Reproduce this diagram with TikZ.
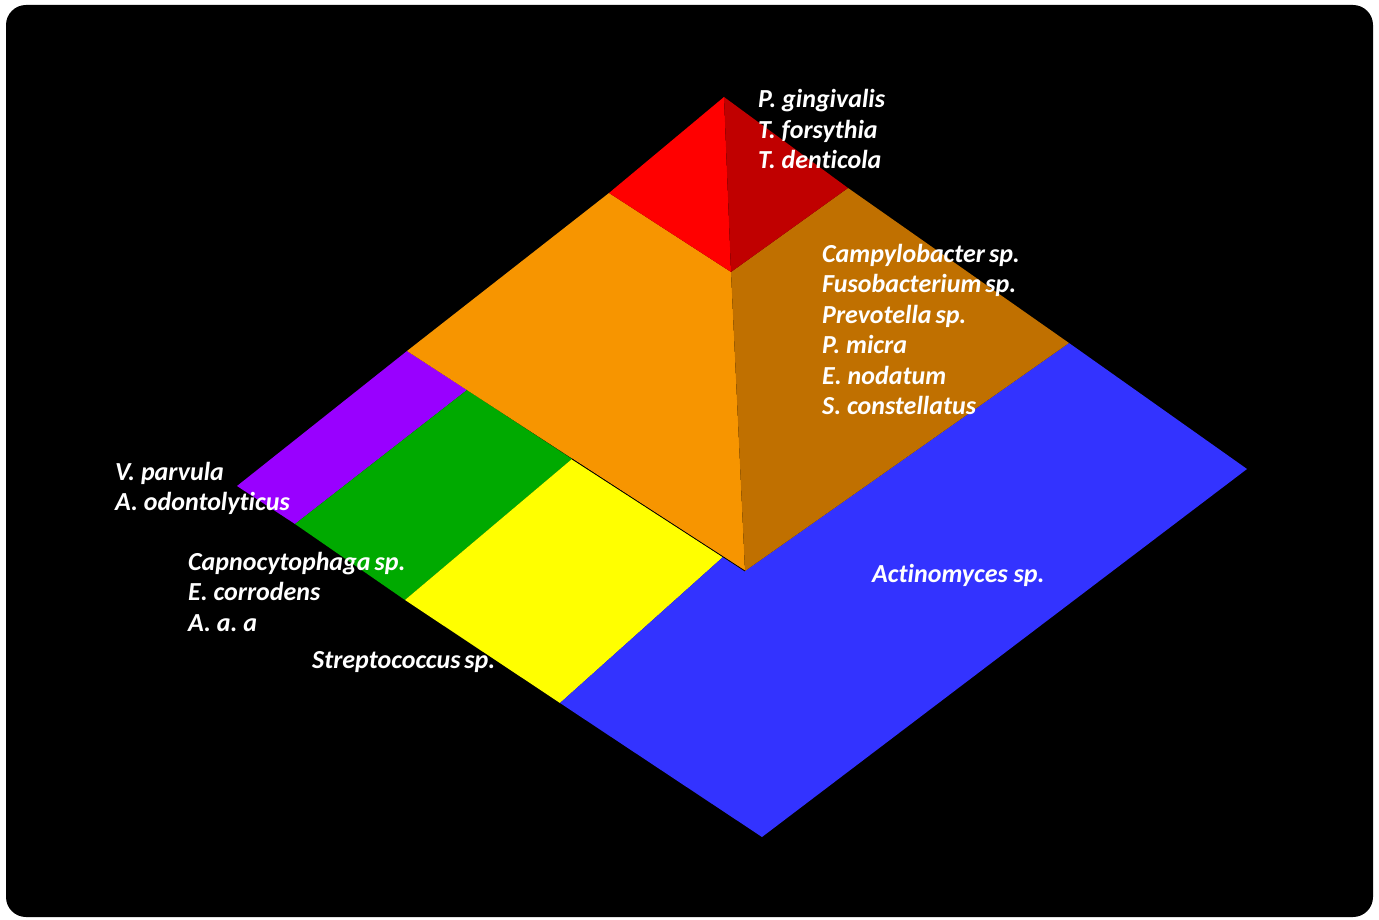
\documentclass[tikz,border=0pt]{standalone}
\usepackage{fontspec}
\setmainfont{Carlito}[Ligatures=NoCommon]
\frenchspacing
\definecolor{cRed}{HTML}{FF0000}
\definecolor{cDarkRed}{HTML}{C00000}
\definecolor{cOrange}{HTML}{F79500}
\definecolor{cBrown}{HTML}{C07000}
\definecolor{cBlue}{HTML}{3333FF}
\definecolor{cPurple}{HTML}{9900FF}
\definecolor{cGreen}{HTML}{00AA00}
\definecolor{cYellow}{HTML}{FFFF00}
\tikzset{
  lbl/.style={text=white, font=\fontsize{26}{30.5}\selectfont\bfseries\itshape\frenchspacing, anchor=base west, inner sep=0pt},
}
\begin{document}
\begin{tikzpicture}[x=1pt,y=-1pt]
\useasboundingbox (0,0) rectangle (1379,920);
\fill[white] (0,0) rectangle (1379,920);
\fill[black, rounded corners=20pt] (6,5) rectangle (1373,917);
% base corners
\coordinate (L) at (237,486);
\coordinate (PT) at (407,351);
\coordinate (PG) at (467,390);
\coordinate (PB) at (295,524);
\coordinate (GY) at (572,459);
\coordinate (GB) at (405,600);
\coordinate (YT) at (723,557);
\coordinate (YB) at (560,703);
\coordinate (B) at (762,837);
\coordinate (R) at (1247,469);
\coordinate (BT) at (1069,343);
\coordinate (F) at (745,571);
% pyramid
\coordinate (apex) at (724,97);
\coordinate (rl) at (609,193);
\coordinate (rr) at (848,188);
\coordinate (rf) at (731,272);
% base strips
\fill[cPurple] (L) -- (PT) -- (PG) -- (PB) -- cycle;
\fill[cGreen] (PB) -- (PG) -- (GY) -- (GB) -- cycle;
\fill[cYellow] (GB) -- (GY) -- (YT) -- (YB) -- cycle;
\fill[cBlue] (YB) -- (B) -- (R) -- (BT) -- (F) -- (YT) -- cycle;
% pyramid faces
\fill[cOrange] (PT) -- (rl) -- (rf) -- (F) -- cycle;
\fill[cBrown] (rf) -- (rr) -- (BT) -- (F) -- cycle;
\fill[cRed] (rl) -- (apex) -- (rf) -- cycle;
\fill[cDarkRed] (apex) -- (rr) -- (rf) -- cycle;
\draw[black, line width=0.8pt] (GY) -- (F);
% labels
\node[lbl] (t1) at (758,108) {P. gingivalis};
\node[lbl] (t2) at (758,138.5) {T. forsythia};
\node[lbl] (t3) at (758,169) {T. denticola};
\node[lbl] (m1) at (822,262) {Campylobacter\hspace{0.15em}sp.};
\node[lbl] (m2) at (822,292.5) {Fusobacterium\hspace{0.15em}sp.};
\node[lbl] (m3) at (822,323) {Prevotella\hspace{0.15em}sp.};
\node[lbl] (m4) at (822,353.5) {P. micra};
\node[lbl] (m5) at (822,384) {E. nodatum};
\node[lbl] (m6) at (822,414.5) {S. constellatus};
\node[lbl] (v1) at (115,480) {V. parvula};
\node[lbl] (v2) at (115,510) {A. odontolyticus};
\node[lbl] (g1) at (188,570) {Capnocytophaga\hspace{0.15em}sp.};
\node[lbl] (g2) at (188,600.5) {E. corrodens};
\node[lbl] (g3) at (188,631) {A. a. a};
\node[lbl] (s1) at (312,668) {Streptococcus\hspace{0.15em}sp.};
\node[lbl] (a1) at (872,582) {Actinomyces sp.};
\end{tikzpicture}
\end{document}
